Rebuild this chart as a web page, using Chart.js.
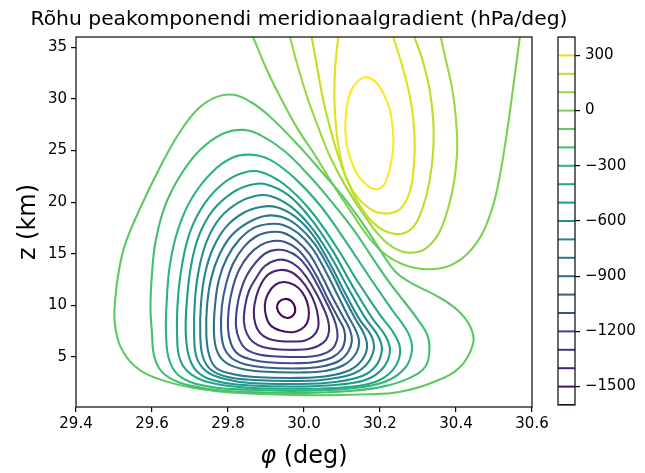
<!DOCTYPE html>
<html>
<head>
<meta charset="utf-8">
<script src="https://cdn.jsdelivr.net/npm/chart.js@4.4.0/dist/chart.umd.min.js"></script>
<style>
  html, body { margin: 0; padding: 0; background: #fff; }
  #wrap { position: relative; width: 645px; height: 473px; }
  #main { position: absolute; left: 0; top: 0; }
  #cbar { position: absolute; left: 540px; top: 0; }
</style>
</head>
<body>
<div id="wrap">
  <canvas id="main" width="645" height="473"></canvas>
  <canvas id="cbar" width="105" height="473"></canvas>
</div>
<script>
// Contour levels (hPa/deg) and axis ticks
const contourLevels = [-1600, -1500, -1400, -1300, -1200, -1100, -1000, -900, -800, -700,
                       -600, -500, -400, -300, -200, -100, 0, 100, 200, 300, 400];
const xTicks = [29.4, 29.6, 29.8, 30.0, 30.2, 30.4, 30.6];
const yTicks = [5, 10, 15, 20, 25, 30, 35];
const cbTicks = [-1500, -1200, -900, -600, -300, 0, 300];

// Contour paths, [phi (deg), z (km)]
const ringM1600 = [[29.958,8.78],[29.939,9.07],[29.929,9.75],[29.934,10.33],[29.95,10.62],[29.966,10.43],[29.976,9.84],[29.974,9.16]];
const ringM1500 = [[29.971,7.4],[29.937,7.56],[29.911,8.1],[29.9,8.97],[29.897,10.04],[29.905,11.1],[29.924,11.98],[29.947,12.26],[29.974,11.98],[29.995,11.29],[30.008,10.33],[30.013,9.26],[30.008,8.29],[29.992,7.66]];
const ringM1400 = [[29.979,6.5],[29.934,6.55],[29.905,6.79],[29.884,7.33],[29.872,8.2],[29.868,9.46],[29.874,10.81],[29.887,12.07],[29.908,13.04],[29.937,13.43],[29.966,13.23],[29.992,12.46],[30.013,11.39],[30.029,10.13],[30.037,8.87],[30.037,7.81],[30.024,7.03],[30.003,6.6]];
const ringM1300 = [[29.984,5.69],[29.926,5.75],[29.892,5.96],[29.866,6.45],[29.85,7.23],[29.842,8.39],[29.845,9.94],[29.855,11.39],[29.874,12.65],[29.897,13.81],[29.929,14.4],[29.958,14.3],[29.984,13.72],[30.008,12.65],[30.032,11.2],[30.05,9.84],[30.063,8.59],[30.066,7.52],[30.058,6.65],[30.037,6.06],[30.011,5.77]];
const ringM1200 = [[29.99,5.0],[29.916,5.07],[29.876,5.29],[29.847,5.77],[29.83,6.65],[29.821,7.99],[29.824,9.84],[29.834,11.49],[29.85,12.94],[29.874,14.2],[29.9,15.07],[29.926,15.37],[29.955,15.27],[29.984,14.69],[30.011,13.53],[30.037,11.88],[30.061,10.13],[30.079,8.68],[30.087,7.61],[30.087,6.65],[30.074,5.77],[30.047,5.24],[30.018,5.05]];
const ringM1100 = [[29.99,4.4],[29.905,4.48],[29.861,4.75],[29.826,5.29],[29.808,6.26],[29.8,7.81],[29.803,9.94],[29.813,11.78],[29.829,13.43],[29.855,14.88],[29.887,15.85],[29.918,16.24],[29.95,16.14],[29.982,15.46],[30.011,14.2],[30.04,12.36],[30.066,10.42],[30.09,8.78],[30.105,7.71],[30.108,6.74],[30.1,5.77],[30.076,5.0],[30.037,4.56]];
const ringM1000 = [[29.99,3.89],[29.897,3.98],[29.847,4.27],[29.811,4.85],[29.79,5.87],[29.782,7.52],[29.784,9.94],[29.795,12.07],[29.813,14.01],[29.842,15.66],[29.876,16.72],[29.913,17.11],[29.947,17.01],[29.982,16.24],[30.016,14.88],[30.047,12.84],[30.076,10.71],[30.103,8.87],[30.121,7.61],[30.126,6.55],[30.116,5.48],[30.092,4.61],[30.047,4.08]];
const ringM900 = [[29.99,3.5],[29.89,3.59],[29.832,3.88],[29.792,4.51],[29.771,5.58],[29.763,7.32],[29.766,10.04],[29.776,12.46],[29.797,14.59],[29.829,16.33],[29.868,17.5],[29.908,17.88],[29.945,17.79],[29.984,17.01],[30.021,15.56],[30.055,13.43],[30.087,11.1],[30.116,8.97],[30.137,7.52],[30.145,6.35],[30.134,5.19],[30.105,4.22],[30.055,3.64]];
const ringM800 = [[29.99,2.97],[29.869,3.06],[29.811,3.35],[29.769,3.93],[29.751,5.09],[29.743,7.13],[29.745,10.04],[29.756,12.65],[29.777,14.88],[29.808,16.72],[29.851,17.98],[29.897,18.66],[29.942,18.56],[29.984,17.69],[30.026,16.05],[30.066,13.62],[30.103,10.91],[30.137,8.59],[30.158,7.22],[30.166,5.97],[30.153,4.71],[30.121,3.74],[30.063,3.16]];
const ringM700 = [[29.99,2.67],[29.866,2.77],[29.8,3.06],[29.756,3.74],[29.734,5.0],[29.727,7.13],[29.729,10.23],[29.74,13.14],[29.761,15.56],[29.795,17.6],[29.84,18.95],[29.886,19.53],[29.926,19.53],[29.974,18.66],[30.021,16.92],[30.066,14.2],[30.108,11.2],[30.147,8.59],[30.176,7.13],[30.184,5.87],[30.168,4.42],[30.134,3.45],[30.068,2.87]];
const ringM600 = [[29.99,2.38],[29.858,2.48],[29.792,2.87],[29.745,3.55],[29.718,4.9],[29.711,7.13],[29.713,10.52],[29.724,13.6],[29.745,16.3],[29.779,18.47],[29.826,19.92],[29.871,20.6],[29.911,20.6],[29.963,19.63],[30.016,17.7],[30.068,14.88],[30.116,11.68],[30.161,8.78],[30.195,7.03],[30.205,5.68],[30.189,4.13],[30.153,3.16],[30.082,2.58]];
const ringM500 = [[29.99,2.14],[29.858,2.24],[29.779,2.58],[29.726,3.35],[29.7,4.71],[29.689,7.13],[29.692,10.52],[29.703,13.9],[29.724,16.8],[29.761,19.24],[29.811,20.9],[29.858,21.66],[29.897,21.76],[29.958,20.7],[30.016,18.47],[30.074,15.37],[30.126,11.98],[30.179,8.78],[30.216,6.94],[30.226,5.48],[30.208,3.93],[30.168,2.87],[30.095,2.33]];
const ringM400 = [[29.99,1.92],[29.858,2.02],[29.766,2.4],[29.705,3.26],[29.674,4.71],[29.666,7.13],[29.668,10.52],[29.679,13.9],[29.7,17.1],[29.739,19.9],[29.792,21.95],[29.845,22.9],[29.889,22.9],[29.95,21.66],[30.016,19.24],[30.082,15.85],[30.142,12.26],[30.2,9.07],[30.239,7.13],[30.253,5.48],[30.234,3.74],[30.187,2.57],[30.108,2.07]];
const ringM300 = [[29.99,1.72],[29.858,1.82],[29.753,2.12],[29.679,2.97],[29.647,4.51],[29.637,7.13],[29.639,10.52],[29.647,13.9],[29.668,17.3],[29.705,20.4],[29.758,22.9],[29.811,24.3],[29.858,24.6],[29.911,24.1],[29.976,22.3],[30.042,19.7],[30.108,16.3],[30.174,12.65],[30.232,9.55],[30.274,7.33],[30.284,5.68],[30.266,3.93],[30.213,2.6],[30.121,1.95]];
const ringM200 = [[30.0,1.52],[29.858,1.6],[29.75,1.9],[29.67,2.55],[29.625,3.6],[29.605,5.2],[29.6,7.3],[29.596,9.85],[29.6,13.1],[29.61,16.3],[29.635,19.7],[29.675,22.6],[29.725,25.0],[29.785,26.6],[29.84,27.0],[29.89,26.4],[29.95,24.9],[30.015,22.5],[30.08,19.7],[30.135,17.1],[30.18,14.6],[30.225,12.2],[30.265,10.3],[30.3,8.6],[30.325,7.1],[30.33,5.7],[30.32,4.1],[30.28,3.0],[30.21,2.15],[30.12,1.7]];
const ringM100 = [[30.0,1.3],[29.83,1.5],[29.71,2.0],[29.615,2.9],[29.555,4.1],[29.517,6.0],[29.502,8.3],[29.503,10.5],[29.513,13.4],[29.53,16.0],[29.57,19.5],[29.62,23.3],[29.67,26.6],[29.72,29.0],[29.77,30.2],[29.815,30.4],[29.86,29.7],[29.91,28.3],[29.98,25.7],[30.05,22.8],[30.11,20.2],[30.17,17.1],[30.21,14.8],[30.245,13.1],[30.29,12.0],[30.35,10.9],[30.405,9.5],[30.438,7.9],[30.445,6.3],[30.41,4.0],[30.34,2.55],[30.25,1.6],[30.17,1.38]];
const line0 = [[29.866,36],[29.9,33],[29.94,30],[29.985,27],[30.03,24.5],[30.08,21.5],[30.125,19.0],[30.17,16.6],[30.215,14.9],[30.265,13.9],[30.32,13.5],[30.38,13.8],[30.43,15.0],[30.47,17.0],[30.5,20.0],[30.52,23.5],[30.535,27],[30.55,31],[30.568,36]];
const line100 = [[29.963,36],[29.985,33],[30.01,30],[30.04,27],[30.07,24.3],[30.11,21.5],[30.155,18.9],[30.2,16.7],[30.24,15.5],[30.28,15.1],[30.32,15.5],[30.355,17.0],[30.38,19.5],[30.395,22],[30.403,25],[30.4,28],[30.39,31],[30.375,33.5],[30.36,36]];
const line200 = [[30.02,36],[30.035,33],[30.05,30],[30.07,27],[30.09,24.5],[30.115,22],[30.15,19.5],[30.195,17.6],[30.245,16.9],[30.285,17.5],[30.31,19.2],[30.33,22],[30.34,25],[30.34,28],[30.33,31],[30.31,34],[30.29,36]];
const line300 = [[30.09,36],[30.082,33],[30.08,30],[30.085,27],[30.095,24.5],[30.11,22.5],[30.14,20.5],[30.18,19.2],[30.22,18.9],[30.255,19.4],[30.28,21.2],[30.29,24],[30.29,27],[30.28,30],[30.26,33],[30.235,36]];
const ring400 = [[30.156,32.06],[30.182,31.84],[30.204,30.87],[30.226,28.93],[30.235,26.35],[30.232,24.41],[30.213,21.83],[30.191,21.25],[30.165,21.67],[30.134,23.12],[30.112,25.71],[30.11,28.29],[30.125,30.87]];

// viridis colours for the levels above (norm -1600 .. 400)
const levelColors = ['#440154','#471365','#482475','#463480','#414487','#3b528b','#355f8d','#2f6c8e',
                     '#2a788e','#25848e','#21918c','#1e9c89','#22a884','#2fb47c','#44bf70','#5ec962',
                     '#7ad151','#9bd93c','#bddf26','#dfe318','#fde725'];

const contourPaths = [
  [-1600, ringM1600, true], [-1500, ringM1500, true], [-1400, ringM1400, true], [-1300, ringM1300, true],
  [-1200, ringM1200, true], [-1100, ringM1100, true], [-1000, ringM1000, true], [-900, ringM900, true],
  [-800, ringM800, true], [-700, ringM700, true], [-600, ringM600, true], [-500, ringM500, true],
  [-400, ringM400, true], [-300, ringM300, true], [-200, ringM200, true], [-100, ringM100, true],
  [0, line0, false], [100, line100, false], [200, line200, false], [300, line300, false], [400, ring400, true]
];

const FONT = '"DejaVu Sans", "Liberation Sans", sans-serif';
const INK = '#000';

function colorFor(level) { return levelColors[contourLevels.indexOf(level)]; }

function buildDataset([level, pts, closed]) {
  const color = colorFor(level);
  let data = pts.map(([x, y]) => ({ x, y }));
  let segment;
  if (closed) {
    // wrap around so the spline closes smoothly; the two helper segments are hidden
    const n = data.length;
    data = [data[n - 1], ...data, data[0], data[1]];
    const last = data.length - 1;
    segment = {
      borderColor: c => (c.p0DataIndex === 0 || c.p1DataIndex === last) ? 'rgba(0,0,0,0)' : color
    };
  }
  return {
    label: String(level), data, showLine: true, borderColor: color, borderWidth: 2.1,
    pointRadius: 0, tension: 0.4, fill: false, segment
  };
}

const frame = {
  id: 'frame',
  afterDraw(chart) {
    const { ctx, chartArea: a } = chart;
    ctx.save();
    ctx.strokeStyle = '#1a1a1a';
    ctx.lineWidth = 1.3;
    ctx.strokeRect(a.left, a.top, a.right - a.left, a.bottom - a.top);
    ctx.restore();
  }
};

const axisText = {
  id: 'axisText',
  afterDraw(chart) {
    const { ctx, chartArea: a } = chart;
    ctx.save();
    ctx.fillStyle = INK;
    ctx.textBaseline = 'alphabetic';
    // title
    ctx.font = '20.3px ' + FONT;
    ctx.textAlign = 'center';
    ctx.fillText('Rõhu peakomponendi meridionaalgradient (hPa/deg)', 299, 25);
    // x label with italic phi
    const it = 'italic 24px ' + FONT, up = '24px ' + FONT;
    ctx.font = it; const w1 = ctx.measureText('φ').width;
    ctx.font = up; const w2 = ctx.measureText(' (deg)').width;
    let x0 = (a.left + a.right) / 2 - (w1 + w2) / 2;
    ctx.textAlign = 'left';
    ctx.font = it; ctx.fillText('φ', x0, 463);
    ctx.font = up; ctx.fillText(' (deg)', x0 + w1, 463);
    // y label
    ctx.translate(35, (a.top + a.bottom) / 2);
    ctx.rotate(-Math.PI / 2);
    ctx.textAlign = 'center';
    ctx.font = up;
    ctx.fillText('z (km)', 0, 0);
    ctx.restore();
  }
};

new Chart(document.getElementById('main'), {
  type: 'scatter',
  data: { datasets: contourPaths.map(buildDataset) },
  options: {
    responsive: false, animation: false, events: [],
    layout: { padding: { left: 0, right: 113, top: 37, bottom: 0 } },
    plugins: { legend: { display: false }, tooltip: { enabled: false }, title: { display: false } },
    scales: {
      x: {
        type: 'linear', min: 29.4, max: 30.6,
        afterBuildTicks: s => { s.ticks = xTicks.map(v => ({ value: v })); },
        afterFit: s => { s.height = 66; },
        grid: { display: true, drawOnChartArea: false, drawTicks: true, tickLength: 5, color: INK, lineWidth: 1.2 },
        border: { display: false },
        ticks: { color: INK, font: { family: FONT, size: 15 }, padding: 3, maxRotation: 0,
                 callback: v => v.toFixed(1) }
      },
      y: {
        type: 'linear', min: 0.15, max: 36,
        afterBuildTicks: s => { s.ticks = yTicks.map(v => ({ value: v })); },
        afterFit: s => { s.width = 76; },
        grid: { display: true, drawOnChartArea: false, drawTicks: true, tickLength: 5, color: INK, lineWidth: 1.2 },
        border: { display: false },
        ticks: { color: INK, font: { family: FONT, size: 15 }, padding: 4, callback: v => String(v) }
      }
    }
  },
  plugins: [frame, axisText]
});

// colour bar: one horizontal line per contour level
new Chart(document.getElementById('cbar'), {
  type: 'scatter',
  data: {
    datasets: contourLevels.map((lv, i) => ({
      data: [{ x: 0, y: lv }, { x: 1, y: lv }], showLine: true, borderColor: levelColors[i],
      borderWidth: 2, pointRadius: 0
    }))
  },
  options: {
    responsive: false, animation: false, events: [],
    layout: { padding: { left: 18, right: 0, top: 37, bottom: 68 } },
    plugins: { legend: { display: false }, tooltip: { enabled: false } },
    scales: {
      x: { type: 'linear', min: 0, max: 1, display: false },
      y: {
        type: 'linear', position: 'right', min: -1600, max: 400,
        afterBuildTicks: s => { s.ticks = cbTicks.map(v => ({ value: v })); },
        afterFit: s => { s.width = 70; },
        grid: { display: true, drawOnChartArea: false, drawTicks: true, tickLength: 5, color: INK, lineWidth: 1.2 },
        border: { display: false },
        ticks: { color: INK, font: { family: FONT, size: 15 }, padding: 5,
                 callback: v => String(v).replace('-', '\u2212') }
      }
    }
  },
  plugins: [frame]
});
</script>
</body>
</html>
